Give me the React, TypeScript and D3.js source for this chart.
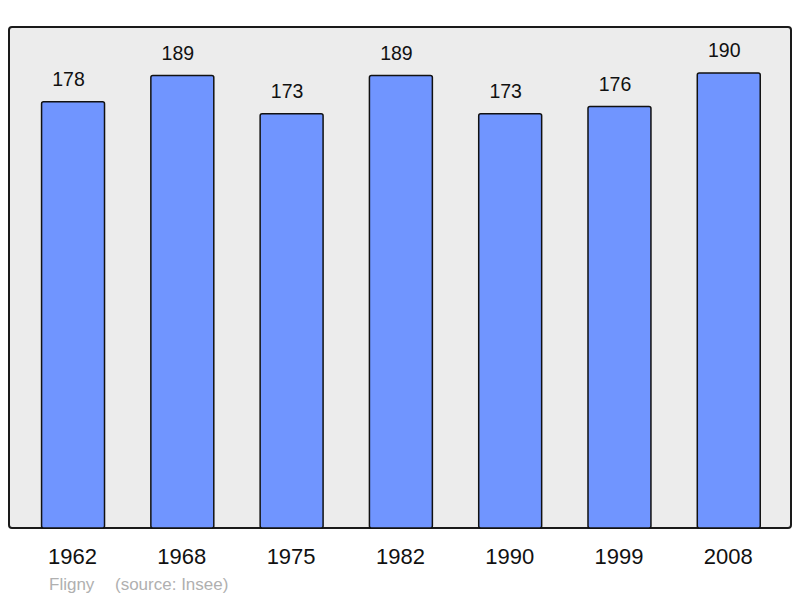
import React, { useEffect, useRef } from 'react';
import * as d3 from 'd3';

// population by census year
const years = ['1962', '1968', '1975', '1982', '1990', '1999', '2008'];
const population = [178, 189, 173, 189, 173, 176, 190];
const footerPlace = 'Fligny';
const footerSource = '(source: Insee)';

export default function App() {
  const ref = useRef<SVGSVGElement | null>(null);

  useEffect(() => {
    const width = 800, height = 598;
    const panel = { left: 9, top: 27, right: 791, bottom: 528 };

    const svg = d3.select(ref.current);
    svg.selectAll('*').remove();

    const x = d3
      .scaleBand<string>()
      .domain(years)
      .range([18.4, 783.4])
      .paddingInner(0.424)
      .paddingOuter(0.212);

    const y = d3.scaleLinear().domain([0, 209.2]).range([panel.bottom, panel.top]);

    // background panel
    svg
      .append('rect')
      .attr('x', panel.left)
      .attr('y', panel.top)
      .attr('width', panel.right - panel.left)
      .attr('height', panel.bottom - panel.top)
      .attr('rx', 3)
      .attr('fill', '#ececec')
      .attr('stroke', '#1a1a1a')
      .attr('stroke-width', 2);

    const data = years.map((yr, i) => ({ yr, v: population[i] }));

    svg
      .append('g')
      .selectAll('rect')
      .data(data)
      .enter()
      .append('rect')
      .attr('x', (d) => x(d.yr)!)
      .attr('y', (d) => y(d.v))
      .attr('width', x.bandwidth())
      .attr('height', (d) => y(0) - y(d.v))
      .attr('rx', 2)
      .attr('fill', '#7095ff')
      .attr('stroke', '#111')
      .attr('stroke-width', 1.5);

    // value labels above each bar (sit a little left of centre in the original)
    svg
      .append('g')
      .selectAll('text')
      .data(data)
      .enter()
      .append('text')
      .attr('x', (d) => x(d.yr)! + x.bandwidth() / 2 - 4.5)
      .attr('y', (d) => y(d.v) - 15.5)
      .attr('text-anchor', 'middle')
      .style('font', '19.5px "Liberation Sans", Arial, sans-serif')
      .attr('fill', '#111')
      .text((d) => d.v);

    // year labels
    svg
      .append('g')
      .selectAll('text')
      .data(years)
      .enter()
      .append('text')
      .attr('x', (d) => x(d)! + x.bandwidth() / 2 - 0.5)
      .attr('y', 564)
      .attr('text-anchor', 'middle')
      .style('font', '22px "Liberation Sans", Arial, sans-serif')
      .attr('fill', '#111')
      .text((d) => d);

    svg
      .append('text')
      .attr('x', 49)
      .attr('y', 590)
      .style('font', '17px "Liberation Sans", Arial, sans-serif')
      .attr('fill', '#b0b0b0')
      .text(footerPlace);

    svg
      .append('text')
      .attr('x', 115)
      .attr('y', 590)
      .style('font', '17px "Liberation Sans", Arial, sans-serif')
      .attr('fill', '#b0b0b0')
      .text(footerSource);

    svg.attr('width', width).attr('height', height);
  }, []);

  return (
    <div style={{ position: 'absolute', left: 0, top: 0, background: '#fff' }}>
      <svg ref={ref} width={800} height={598} style={{ display: 'block' }}></svg>
    </div>
  );
}
